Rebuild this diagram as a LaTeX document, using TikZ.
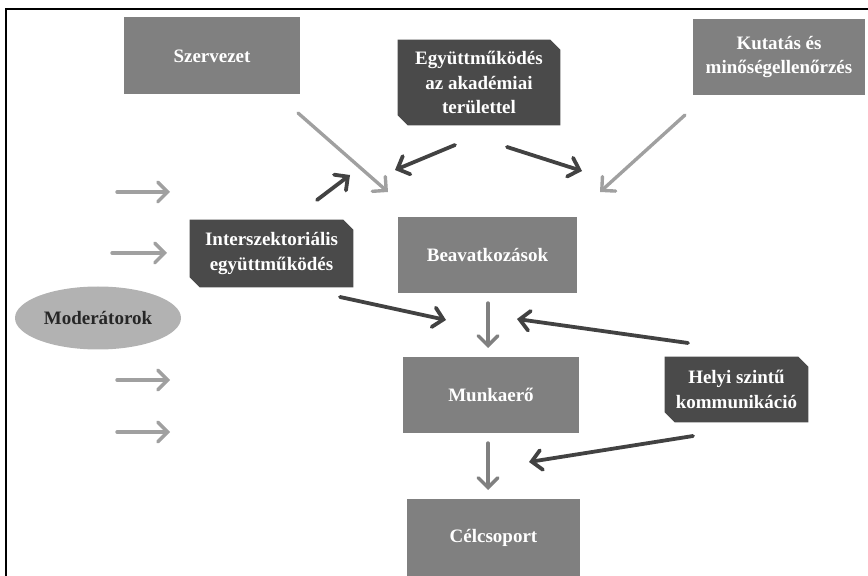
\documentclass[tikz,border=0pt]{standalone}
\usepackage{fontspec}
\setmainfont{Liberation Serif}
\usetikzlibrary{arrows.meta,calc,backgrounds,shapes.geometric}
\definecolor{boxgray}{RGB}{128,128,128}
\definecolor{boxdark}{RGB}{74,74,74}
\definecolor{ovalgray}{RGB}{178,178,178}
\definecolor{arrlight}{RGB}{160,160,160}
\definecolor{arrmid}{RGB}{128,128,128}
\definecolor{arrdark}{RGB}{66,66,66}
\newcommand{\pxu}{0.025cm}
\tikzset{
  boxtext/.style={text=white, font=\fontsize{13.5}{17.5}\selectfont\bfseries, align=center, inner sep=0pt},
  graybox/.style={boxtext, fill=boxgray},
  cutbox/.style={boxtext},
  arr/.style={line width=2.7pt, line cap=round, -{Straight Barb[length=7pt,width=14pt,line cap=round]}},
  arrlight/.style={arr, draw=arrlight, line width=2.4pt},
  arrmid/.style={arr, draw=arrmid, line width=2.4pt},
  arrdark/.style={arr, draw=arrdark},
}
\begin{document}
\begin{tikzpicture}[x=\pxu, y=-\pxu]
  \useasboundingbox (0,0) rectangle (868,576);
  \draw[line width=1.4pt] (6,576) -- (6,9) -- (868,9);

  % boxes
  \node[graybox, minimum width=176*\pxu, minimum height=77*\pxu] (szerv) at (212,56) {Szervezet};
  \node[cutbox, minimum width=162*\pxu, minimum height=85*\pxu] (egyutt) at (479,82.5) {Együttműködés\\az akadémiai\\területtel};
  \node[graybox, minimum width=172*\pxu, minimum height=76*\pxu] (kutat) at (779,57) {Kutatás és\\minőségellenőrzés};
  \node[cutbox, minimum width=163*\pxu, minimum height=67*\pxu] (inter) at (271.5,253.5) {Interszektoriális\\együttműködés};
  \node[graybox, minimum width=179*\pxu, minimum height=76*\pxu] (beav) at (487.5,255) {Beavatkozások};
  \node[graybox, minimum width=176*\pxu, minimum height=76*\pxu] (munka) at (491,395) {Munkaerő};
  \node[graybox, minimum width=173*\pxu, minimum height=77*\pxu] (celcs) at (493.5,537.5) {Célcsoport};
  \node[cutbox, minimum width=143*\pxu, minimum height=65*\pxu] (helyi) at (736.5,389.5) {Helyi szintű\\kommunikáció};
  \node[ellipse, fill=ovalgray, text=black!85, font=\fontsize{13.5}{15}\selectfont\bfseries,
        minimum width=166*\pxu, minimum height=63*\pxu, inner sep=0pt] (moder) at (98,318) {Moderátorok};

  % dark boxes with cut corners
  \begin{scope}[on background layer]
    \foreach \n in {egyutt,inter,helyi}
      \fill[boxdark] (\n.north west) -- ($(\n.north east)+(-10,0)$) -- ($(\n.north east)+(0,10)$)
        -- (\n.south east) -- ($(\n.south west)+(10,0)$) -- ($(\n.south west)+(0,-10)$) -- cycle;
  \end{scope}

  % arrow ends
  \foreach \n/\x/\y in {s1/298/113, e1/388/192, s2/685/115, e2/600/192,
      s3/455/145, e3/395/170, s4/507/147, e4/582/171, s5/317/200, e5/350/175,
      s6/340/297, e6/446/320, s7/488/303, e7/488/348, s8/688/343, e8/517/319,
      s9/488/443, e9/488/490, s10/693/436, e10/529/462,
      m1/117/192, n1/170/192, m2/112/253, n2/167/253,
      m3/117/380, n3/170/380, m4/117/432, n4/170/432}
    \coordinate (\n) at (\x,\y);

  \draw[arrlight] (s1) -- (e1);
  \draw[arrlight] (s2) -- (e2);
  \draw[arrdark] (s3) -- (e3);
  \draw[arrdark] (s4) -- (e4);
  \draw[arrdark] (s5) -- (e5);
  \draw[arrdark] (s6) -- (e6);
  \draw[arrmid] (s7) -- (e7);
  \draw[arrdark] (s8) -- (e8);
  \draw[arrmid] (s9) -- (e9);
  \draw[arrdark] (s10) -- (e10);
  \foreach \i in {1,...,4}
    \draw[arrlight] (m\i) -- (n\i);
\end{tikzpicture}
\end{document}
